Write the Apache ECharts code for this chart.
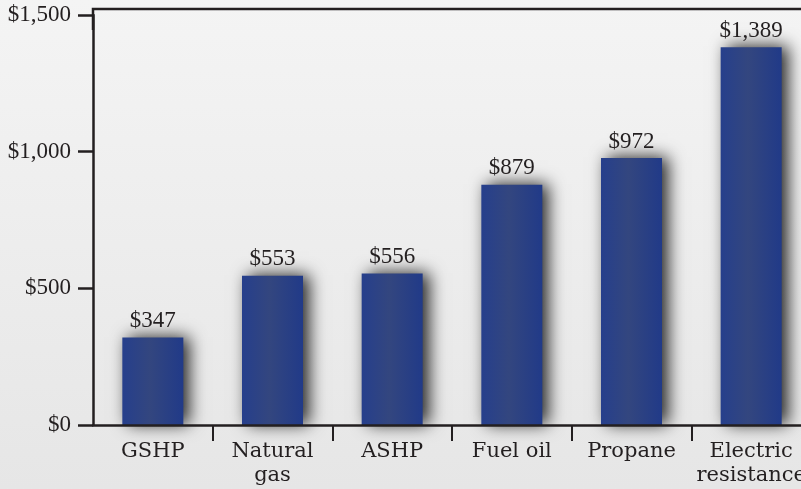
<!DOCTYPE html>
<html>
<head>
<meta charset="utf-8">
<script src="https://cdn.jsdelivr.net/npm/echarts@6/dist/echarts.min.js"></script>
<style>
html,body{margin:0;padding:0;}
#chart{width:801px;height:489px;}
</style>
</head>
<body>
<div id="chart"></div>
<script>
const categories = ['GSHP', 'Natural\ngas', 'ASHP', 'Fuel oil', 'Propane', 'Electric\nresistance'];
const barValues = [320, 546, 554, 879, 977, 1382];
const valueLabels = ['$347', '$553', '$556', '$879', '$972', '$1,389'];
const yTickLabels = {0: '$0', 500: '$500', 1000: '$1,000', 1500: '$1,500'};

const chart = echarts.init(document.getElementById('chart'));
const ink = '#231f20';
const times = "'Liberation Serif', 'Times New Roman', serif";
const option = {
  backgroundColor: {
    type: 'linear', x: 0, y: 0, x2: 0, y2: 1,
    colorStops: [{offset: 0, color: '#f4f4f4'}, {offset: 1, color: '#e6e6e6'}]
  },
  animation: false,
  grid: {left: 93, top: 15, bottom: 64, right: -10, containLabel: false, outerBoundsMode: 'none'},
  xAxis: {
    type: 'category',
    data: categories,
    axisLine: {lineStyle: {color: ink, width: 2.5}},
    axisTick: {show: true, length: 16, lineStyle: {color: ink, width: 2},
      interval: function (i) { return i > 0; }},
    axisLabel: {
      color: ink, fontFamily: "'DejaVu Serif', serif", fontSize: 21, lineHeight: 24, margin: 15, interval: 0
    },
    z: 3
  },
  yAxis: {
    type: 'value', min: 0, max: 1500, interval: 500,
    position: 'left',
    splitLine: {show: false},
    axisLine: {show: true, lineStyle: {color: ink, width: 2.5}},
    axisTick: {show: true, length: 15, lineStyle: {color: ink, width: 2.5, opacity: 1}},
    axisLabel: {
      show: true,
      color: ink, fontFamily: times, fontSize: 23, margin: 22,
      formatter: function (v) { return yTickLabels[v] !== undefined ? yTickLabels[v] : ''; }
    },
    z: 4
  },
  series: [{
    type: 'bar',
    data: barValues,
    barWidth: 61,
    itemStyle: {
      color: {
        type: 'linear', x: 0, y: 0, x2: 1, y2: 0,
        colorStops: [
          {offset: 0, color: '#263f8c'},
          {offset: 0.45, color: '#33467f'},
          {offset: 1, color: '#213a88'}
        ]
      },
      shadowColor: 'rgba(0,0,0,0.85)',
      shadowBlur: 16,
      shadowOffsetX: 6,
      shadowOffsetY: -1
    },
    label: {
      show: true, position: 'top', distance: 5,
      color: ink, fontFamily: times, fontSize: 23,
      formatter: function (p) { return valueLabels[p.dataIndex]; }
    }
  }],
  graphic: [{
    type: 'polyline',
    shape: {points: [[93, 30], [93, 9], [801, 9]]},
    style: {stroke: ink, lineWidth: 2.5, fill: null},
    z: 100
  }]
};
chart.setOption(option);
</script>
</body>
</html>
